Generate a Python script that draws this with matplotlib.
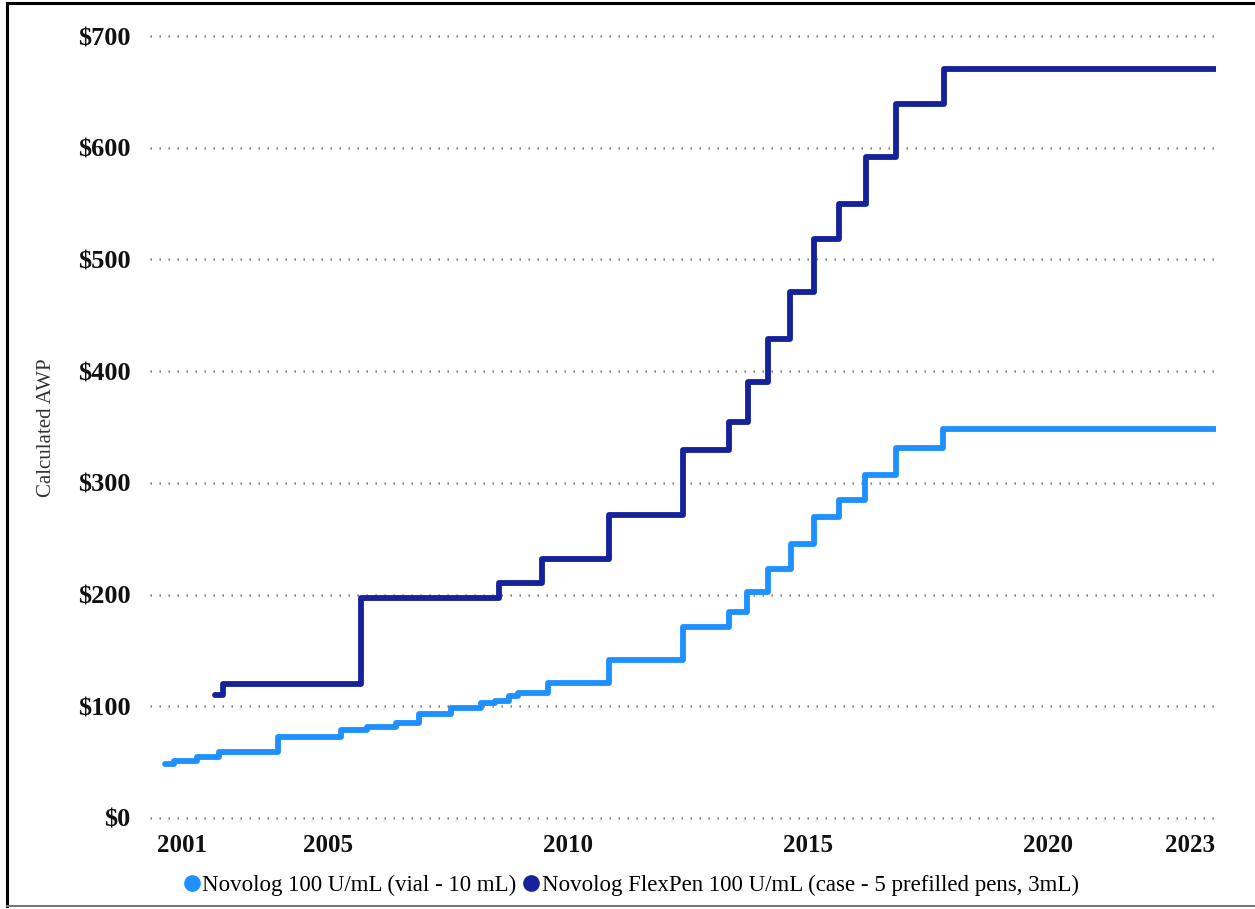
import matplotlib
matplotlib.use("Agg")
import matplotlib.pyplot as plt
from matplotlib.lines import Line2D

# ---- data (decimal year of each price change, AWP in $) ----
vial_years = [2001.60, 2001.79, 2002.26, 2002.73, 2003.95, 2005.26, 2005.81, 2006.41,
              2006.90, 2007.56, 2008.19, 2008.48, 2008.76, 2008.96, 2009.58, 2010.86,
              2012.40, 2013.35, 2013.73, 2014.16, 2014.64, 2015.13, 2015.65, 2016.19,
              2016.83, 2017.82, 2023.50]
vial_awp = [48.3, 51.2, 54.9, 59.4, 72.8, 78.8, 81.2, 85.3,
            93.1, 98.7, 102.7, 105.0, 109.5, 112.1, 120.5, 141.0,
            170.7, 184.0, 202.5, 222.6, 245.0, 269.7, 284.6, 307.0,
            330.9, 347.9, 347.9]

pen_years = [2002.65, 2002.81, 2005.68, 2008.56, 2009.46, 2010.85, 2012.40, 2013.35,
             2013.74, 2014.16, 2014.63, 2015.13, 2015.65, 2016.20, 2016.83, 2017.84,
             2023.50]
pen_awp = [110.1, 119.9, 196.6, 210.0, 231.8, 271.2, 329.4, 354.7,
           390.5, 428.7, 471.0, 517.9, 549.2, 591.9, 638.8, 670.1, 670.1]

series_labels = ["Novolog 100 U/mL (vial - 10 mL)",
                 "Novolog FlexPen 100 U/mL (case - 5 prefilled pens, 3mL)"]
x_tick_labels = ["2001", "2005", "2010", "2015", "2020", "2023"]
x_tick_pos = [2001.96, 2005.0, 2010.0, 2015.0, 2020.0, 2022.96]
y_ticks = [0, 100, 200, 300, 400, 500, 600, 700]

c_vial = "#1E90FF"
c_pen = "#15229A"

plt.rcParams['font.family'] = ['Liberation Serif', 'DejaVu Serif']

fig = plt.figure(figsize=(12.55, 9.09), dpi=100)
ax = fig.add_axes([150/1255, 1-826/909, (1216-150)/1255, (826-30)/909])

ax.step(vial_years, vial_awp, where='post', color=c_vial, lw=4.2,
        solid_capstyle='round', solid_joinstyle='round', zorder=3)
ax.step(pen_years, pen_awp, where='post', color=c_pen, lw=4.2,
        solid_capstyle='round', solid_joinstyle='round', zorder=3)

ax.set_xlim(2001.29, 2023.5)
ax.set_ylim(-7.2, 705.4)
ax.set_yticks(y_ticks)
ax.set_yticklabels([f"${v}" for v in y_ticks], fontsize=19, color="#111111",
                   fontweight='bold')
ax.set_xticks(x_tick_pos)
ax.set_xticklabels(x_tick_labels, fontsize=18, color="#111111", fontweight='bold')
ax.tick_params(axis='both', length=0)
ax.tick_params(axis='y', pad=14)
ax.tick_params(axis='x', pad=6)
for s in ax.spines.values():
    s.set_visible(False)
ax.yaxis.grid(True, color="#7a7a7a", lw=1.8, linestyle=(0, (0.55, 3.05)))
ax.set_axisbelow(True)
ax.set_ylabel("Calculated AWP", fontsize=15, color="#333333", labelpad=16)

handles = [Line2D([], [], marker='o', ls='none', color=c_vial, markersize=11),
           Line2D([], [], marker='o', ls='none', color=c_pen, markersize=11)]
fig.legend(handles, series_labels, loc='center', bbox_to_anchor=(630/1255, 1-885/909),
           ncol=2, frameon=False, fontsize=16.5, handletextpad=0.0, columnspacing=0.2,
           handlelength=0.9)

# outer frame
fig.add_artist(Line2D([7/1255, 7/1255], [1-3/909, 1-906/909], color='black', lw=2.2,
                      transform=fig.transFigure))
fig.add_artist(Line2D([7/1255, 1], [1-3/909, 1-3/909], color='black', lw=2.2,
                      transform=fig.transFigure))
fig.add_artist(Line2D([7/1255, 1], [1-906/909, 1-906/909], color='#777777', lw=1.5,
                      transform=fig.transFigure))

fig.savefig("out.png", dpi=100)
